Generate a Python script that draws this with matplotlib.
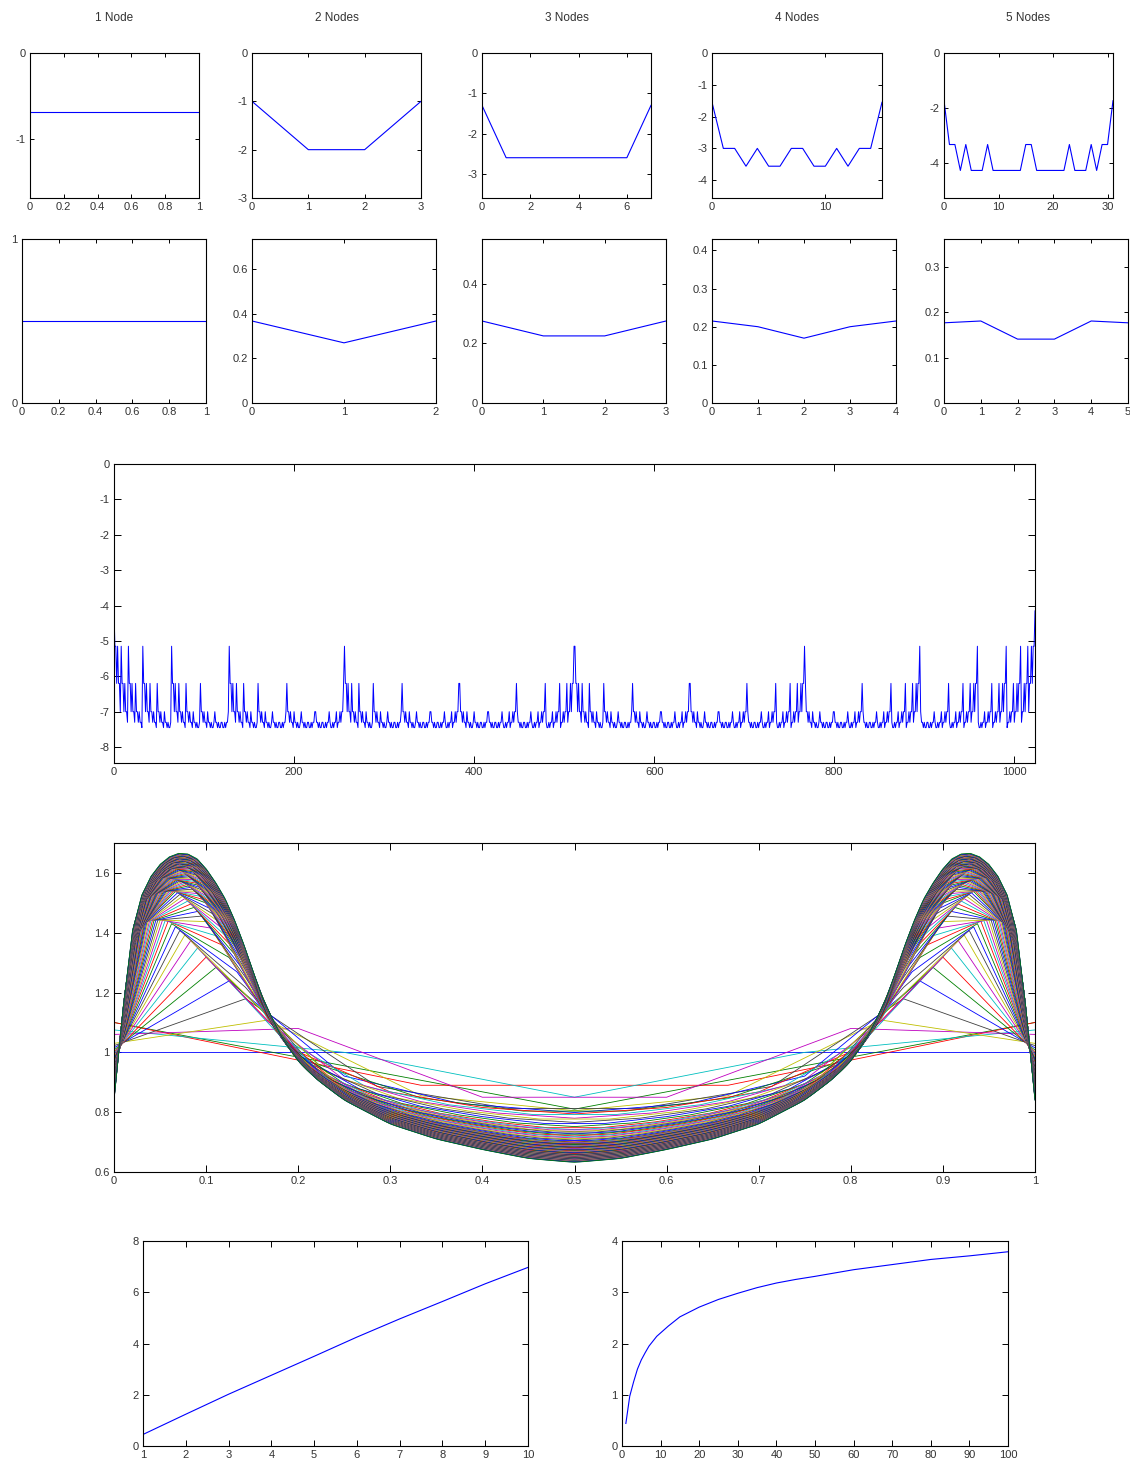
import numpy as np
import matplotlib
matplotlib.use('Agg')
import matplotlib.pyplot as plt
from matplotlib.ticker import FormatStrFormatter

plt.rcParams['font.family'] = ['Liberation Sans', 'DejaVu Sans']
plt.rcParams['axes.unicode_minus'] = False

titles = ['1 Node', '2 Nodes', '3 Nodes', '4 Nodes', '5 Nodes']

# log prob of a single leaf, indexed by number of ones in the leaf index
leaf_levels = [
    [-0.69, -0.69],
    [-1.0, -2.0, -1.0],
    [-1.3, -2.6, -2.6, -1.3],
    [-1.55, -3.0, -3.56, -3.0, -1.55],
    [-1.73, -3.32, -4.26, -4.26, -3.32, -1.73],
]
# probability of k ones
group_probs = [
    [0.5, 0.5],
    [0.368, 0.27, 0.368],
    [0.275, 0.225, 0.225, 0.275],
    [0.215, 0.2, 0.17, 0.2, 0.215],
    [0.177, 0.181, 0.141, 0.141, 0.181, 0.177],
]
row1_xticks = [[0, .2, .4, .6, .8, 1], [0, 1, 2, 3], [0, 2, 4, 6], [0, 10], [0, 10, 20, 30]]
row1_yticks = [[0, -1], [0, -1, -2, -3], [0, -1, -2, -3], [0, -1, -2, -3, -4], [0, -2, -4]]
row2_xticks = [[0, .2, .4, .6, .8, 1], [0, 1, 2], [0, 1, 2, 3], [0, 1, 2, 3, 4], [0, 1, 2, 3, 4, 5]]
row2_yticks = [[0, 1], [0, .2, .4, .6], [0, .2, .4], [0, .1, .2, .3, .4], [0, .1, .2, .3]]

# 10 nodes, 1024 leaves
ten_levels = [-4.15, -5.15, -6.2, -7.0, -7.3, -7.45, -7.3, -7.0, -6.2, -5.15, -4.15]

# density of k/n, first curves read directly
dens_small = [
    [1.0, 1.0],
    [1.10, 0.81, 1.10],
    [1.10, 0.89, 0.89, 1.10],
    [1.075, 1.0, 0.85, 1.0, 1.075],
    [1.06, 1.08, 0.85, 0.85, 1.08, 1.06],
]
# limiting shape (left half, symmetric)
lim_x = [0, 0.005, 0.01, 0.015, 0.02, 0.03, 0.04, 0.05, 0.06, 0.07, 0.08, 0.09, 0.10,
         0.11, 0.12, 0.13, 0.14, 0.15, 0.16, 0.18, 0.20, 0.22, 0.25, 0.30, 0.35, 0.40, 0.45, 0.50]
lim_y = [0.82, 1.0, 1.15, 1.30, 1.42, 1.53, 1.59, 1.63, 1.655, 1.667, 1.665, 1.65, 1.615,
         1.57, 1.52, 1.45, 1.37, 1.28, 1.19, 1.06, 0.97, 0.91, 0.84, 0.76, 0.71, 0.675, 0.645, 0.632]
conv_n = [6, 10, 17, 30, 60, 100]
conv_w = [0.55, 0.57, 0.70, 0.82, 0.93, 1.0]
edge_n = [6, 10, 20, 40, 100]
edge_v = [1.03, 1.0, 0.95, 0.9, 0.84]
n_max = 100

nodes_small = np.arange(1, 11)
score_small = [0.45, 1.24, 2.02, 2.76, 3.5, 4.25, 4.96, 5.64, 6.33, 6.97]
nodes_big = [1, 2, 3, 4, 5, 6, 7, 9, 12, 15, 20, 25, 30, 35, 40, 45, 50, 60, 70, 80, 90, 100]
score_big = [0.44, 0.97, 1.25, 1.5, 1.68, 1.82, 1.95, 2.14, 2.34, 2.52, 2.71, 2.86, 2.98,
             3.09, 3.18, 3.25, 3.31, 3.44, 3.54, 3.64, 3.71, 3.79]

matlab_colors = ['#0000ff', '#008000', '#ff0000', '#00bfbf', '#bf00bf', '#bfbf00', '#404040']

W, H = 1130, 1465
fig = plt.figure(figsize=(W / 100, H / 100), dpi=100)


def add_ax(l, t, r, b):
    return fig.add_axes([l / W, 1 - b / H, (r - l) / W, (b - t) / H])


def style(ax, tl=3.5):
    ax.tick_params(direction='in', length=tl, width=0.7, top=True, right=True,
                   labelsize=8, labelcolor='#333333', pad=3)
    for s in ax.spines.values():
        s.set_linewidth(0.8)
    ax.xaxis.set_major_formatter(FormatStrFormatter('%g'))
    ax.yaxis.set_major_formatter(FormatStrFormatter('%g'))


def popcount(m):
    return np.array([bin(i).count('1') for i in range(m)])


row1_box = [(30, 199), (252, 421), (482, 651), (712, 882), (944, 1113)]
row2_box = [(22, 206), (252, 436), (482, 666), (712, 896), (944, 1128)]

for i in range(5):
    n = i + 1
    ax = add_ax(row1_box[i][0], 53, row1_box[i][1], 198)
    leaves = np.arange(2 ** n)
    y = np.array(leaf_levels[i])[popcount(2 ** n)]
    ax.plot(leaves, y, color='b', lw=0.8)
    ax.set_xlim(0, 2 ** n - 1)
    ax.set_ylim(y.min() - 1, 0)
    ax.set_xticks(row1_xticks[i])
    ax.set_yticks(row1_yticks[i])
    style(ax, 3)
    ax.text(0.5, 1.24, titles[i], transform=ax.transAxes, ha='center', va='center',
            fontsize=8.5, color='#333333')

    ax = add_ax(row2_box[i][0], 239, row2_box[i][1], 403)
    p = np.array(group_probs[i])
    ax.plot(np.arange(n + 1), p, color='b', lw=0.8)
    ax.set_xlim(0, n)
    ax.set_ylim(0, 2 * p.max())
    ax.set_xticks(row2_xticks[i])
    ax.set_yticks(row2_yticks[i])
    style(ax, 3)

# 10 nodes
ax = add_ax(114, 464, 1035, 763)
y10 = np.array(ten_levels)[popcount(1024)]
ax.plot(np.arange(1024), y10, color='b', lw=0.7)
ax.set_xlim(0, 1023)
ax.set_ylim(y10.min() - 1, 0)
ax.set_xticks([0, 200, 400, 600, 800, 1000])
ax.set_yticks(np.arange(0, -9, -1))
style(ax, 5)

# densities of k/n for n = 1..100
ax = add_ax(114, 843, 1035, 1172)
t = np.linspace(0, 1, 2001)
Lt = np.interp(np.minimum(t, 1 - t), lim_x, lim_y)
for n in range(1, n_max + 1):
    xk = np.linspace(0, 1, n + 1)
    if n <= len(dens_small):
        f = np.array(dens_small[n - 1])
    else:
        sig = 0.3 / n
        wts = np.exp(-0.5 * ((t[None, :] - xk[:, None]) / sig) ** 2)
        s = (wts * Lt).sum(1) / wts.sum(1)
        f = 1 + np.interp(n, conv_n, conv_w) * (s - 1)
        f[0] = f[-1] = np.interp(n, edge_n, edge_v)
    ax.plot(xk, f, color=matlab_colors[(n - 1) % 7], lw=0.6)
ax.set_xlim(0, 1)
ax.set_ylim(0.6, 1.7)
ax.set_xticks(np.round(np.arange(0, 1.01, 0.1), 1))
ax.set_yticks([0.6, 0.8, 1.0, 1.2, 1.4, 1.6])
style(ax, 5)

ax = add_ax(143, 1241, 528, 1446)
ax.plot(nodes_small, score_small, color='b', lw=0.8)
ax.set_xlim(1, 10)
ax.set_ylim(0, 8)
ax.set_xticks(nodes_small)
ax.set_yticks([0, 2, 4, 6, 8])
style(ax, 4)

ax = add_ax(622, 1241, 1008, 1446)
ax.plot(nodes_big, score_big, color='b', lw=0.8)
ax.set_xlim(0, 100)
ax.set_ylim(0, 4)
ax.set_xticks(np.arange(0, 101, 10))
ax.set_yticks([0, 1, 2, 3, 4])
style(ax, 4)

fig.savefig('out.png', dpi=100)
